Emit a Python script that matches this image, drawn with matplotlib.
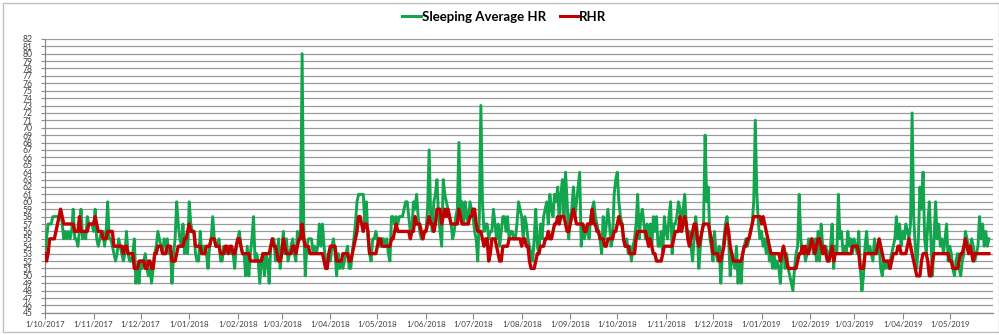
import numpy as np
import pandas as pd
import matplotlib
matplotlib.use("Agg")
import matplotlib.pyplot as plt
import matplotlib.dates as mdates
from matplotlib.patches import Rectangle

# daily values, starting 1/10/2017
start_date = "2017-10-01"

sleeping_hr = [
    53, 55, 57, 57, 57, 58, 58, 58, 58, 58, 59, 57, 55, 56, 55, 56, 55, 56, 59, 55,
    55, 54, 56, 59, 55, 56, 55, 58, 57, 57, 57, 56, 59, 55, 54, 55, 56, 56, 54, 56,
    60, 55, 55, 54, 53, 52, 53, 55, 54, 53, 52, 53, 56, 53, 52, 52, 53, 55, 49, 51,
    49, 52, 51, 52, 53, 51, 50, 51, 49, 51, 53, 54, 56, 55, 54, 53, 55, 54, 55, 53,
    54, 49, 53, 55, 60, 57, 55, 54, 57, 53, 55, 53, 60, 57, 56,
    56, 53, 52, 52, 56, 53, 54, 54, 53, 51, 54, 55, 58, 55, 54, 54, 55, 52, 52, 54,
    53, 54, 53, 54, 53, 53, 51, 54, 55, 56, 54, 53, 53, 50, 54, 50, 53, 55, 58, 52,
    53, 52, 49, 52, 53, 50, 53, 52, 49, 54, 55, 55, 52, 53, 55, 51, 53, 56, 53, 55,
    52, 53, 54, 55, 53, 52, 56, 55, 56, 80, 57, 50, 54, 55, 55, 55, 53, 54, 53, 54,
    57, 54, 57, 54, 52, 51, 53, 52, 54, 55, 53, 50, 53, 51, 52, 51, 52, 53, 54,
    51, 51, 53, 55, 57, 60, 61, 61, 61, 61, 57, 60, 55, 53, 52, 55, 55, 56, 55, 54,
    54, 55, 55, 54, 55, 53, 52, 58, 58, 57, 58, 57, 58, 58, 58, 59, 60, 60, 58, 56,
    56, 60, 59, 61, 58, 56, 55, 55, 56, 56, 59, 67, 58, 56, 60, 61, 63, 58, 56, 54,
    63, 61, 60, 59, 58, 57, 55, 56, 58, 59, 68, 58, 60, 57, 60, 58, 57, 60, 59, 58,
    56, 55, 52, 58, 73, 60, 56, 57, 57, 55, 56, 56, 59, 57, 55, 57, 54, 56, 58,
    58, 56, 58, 55, 56, 56, 55, 55, 57, 60, 59, 58, 55, 58, 57, 55, 54, 53, 52, 55,
    59, 54, 53, 57, 55, 58, 59, 60, 57, 61, 59, 58, 61, 60, 62, 57, 61, 63, 58, 64,
    60, 55, 58, 59, 62, 58, 60, 62, 64, 54, 57, 55, 56, 57, 55, 58, 59, 60, 58, 57,
    56, 55, 53, 58, 55, 57, 59, 57, 54, 55, 61, 63, 64, 60, 58, 57, 55, 54, 55, 53,
    54, 52, 54, 55, 57, 61, 55, 58, 59, 57, 55, 57, 54, 57, 54, 58, 56, 58, 54,
    54, 56, 53, 58, 56, 55, 58, 60, 53, 57, 57, 58, 60, 59, 56, 59, 61, 57, 55, 56,
    54, 52, 55, 58, 56, 51, 54, 56, 57, 69, 60, 62, 55, 54, 52, 56, 53, 52, 54, 49,
    53, 55, 57, 58, 55, 50, 53, 52, 51, 54, 49, 52, 49, 53, 54, 55, 54, 55, 56, 57,
    60, 71, 61, 57, 55, 56, 54, 55, 53, 55, 52, 53, 51, 53, 51, 52, 51, 49, 53, 54,
    51, 53, 51, 50, 49, 48, 51, 53, 54, 61, 55, 53, 54, 52, 53, 55, 54, 55, 53,
    55, 52, 56, 52, 57, 54, 53, 54, 53, 52, 54, 57, 51, 54, 53, 61, 55, 56, 53, 54,
    53, 56, 54, 55, 53, 55, 54, 53, 56, 51, 48, 50, 54, 56, 53, 54, 53, 52, 55, 53,
    53, 54, 51, 50, 52, 51, 52, 51, 52, 53, 54, 55, 58, 55, 57, 54, 56, 55, 57, 56,
    55, 57, 72, 58, 54, 51, 55, 62, 59, 64, 55, 53, 57, 60, 55, 50, 55, 60, 55, 57,
    54, 55, 53, 55, 57, 52, 54, 53, 51, 50, 52, 53, 51, 50, 52, 53, 56, 55, 54, 53,
    55, 54, 52, 53, 54, 58, 55, 57, 54, 56, 54, 55,
]

rhr = [
    53, 52, 53, 55, 55, 55, 55, 56, 57, 58, 59, 58, 57, 57, 57, 57, 57, 57, 57, 56,
    56, 56, 58, 56, 56, 56, 56, 56, 57, 57, 57, 57, 58, 57, 56, 56, 56, 55, 55, 55,
    56, 56, 56, 56, 54, 54, 54, 54, 54, 54, 53, 54, 54, 53, 53, 53, 53, 51, 51, 51,
    52, 52, 52, 52, 51, 51, 52, 52, 51, 51, 53, 53, 54, 54, 54, 53, 53, 53, 54, 54,
    54, 52, 52, 52, 53, 54, 54, 54, 54, 55, 55, 56, 57, 56, 56,
    56, 54, 54, 54, 54, 53, 53, 53, 54, 54, 54, 55, 55, 55, 54, 54, 54, 53, 53, 53,
    54, 54, 53, 54, 54, 53, 53, 54, 55, 55, 54, 53, 53, 53, 53, 53, 52, 52, 52, 52,
    52, 52, 52, 52, 53, 53, 53, 53, 53, 54, 55, 54, 54, 53, 52, 52, 53, 55, 54, 53,
    53, 53, 53, 54, 54, 53, 54, 55, 55, 57, 55, 54, 54, 54, 53, 53, 53, 53, 53, 53,
    53, 53, 53, 52, 51, 51, 53, 54, 54, 54, 54, 52, 52, 52, 52, 53, 53, 53, 53,
    52, 52, 53, 54, 55, 56, 58, 58, 57, 56, 57, 57, 56, 53, 53, 53, 53, 53, 54, 55,
    55, 54, 54, 54, 54, 54, 54, 55, 55, 56, 57, 56, 56, 56, 56, 56, 56, 56, 56, 55,
    56, 56, 58, 57, 57, 57, 56, 55, 56, 56, 57, 58, 57, 57, 56, 57, 59, 59, 59, 57,
    58, 59, 58, 59, 58, 57, 57, 57, 57, 57, 59, 58, 57, 57, 57, 57, 57, 58, 58, 59,
    59, 57, 56, 56, 56, 55, 54, 55, 55, 52, 53, 55, 55, 55, 54, 53, 52, 52, 54,
    54, 54, 54, 55, 55, 55, 55, 55, 55, 55, 55, 54, 55, 55, 54, 54, 52, 51, 51, 51,
    52, 53, 53, 54, 54, 54, 55, 55, 56, 55, 55, 56, 57, 57, 58, 57, 58, 58, 58, 57,
    56, 56, 57, 58, 59, 58, 57, 57, 57, 57, 57, 56, 56, 57, 57, 57, 59, 57, 57, 56,
    56, 55, 55, 55, 54, 54, 55, 55, 55, 55, 56, 56, 57, 58, 57, 57, 55, 54, 54, 54,
    53, 53, 53, 53, 55, 56, 56, 56, 56, 56, 56, 55, 54, 55, 54, 53, 53, 52, 52,
    52, 52, 53, 54, 54, 54, 54, 54, 54, 55, 56, 56, 56, 58, 56, 57, 58, 57, 55, 54,
    55, 56, 57, 57, 55, 54, 55, 56, 57, 57, 57, 57, 56, 55, 53, 53, 53, 53, 52, 52,
    53, 54, 56, 57, 56, 54, 53, 52, 52, 52, 52, 52, 52, 53, 54, 54, 55, 55, 56, 57,
    58, 58, 58, 58, 58, 57, 58, 57, 56, 55, 54, 53, 53, 53, 53, 53, 53, 52, 53, 54,
    53, 52, 51, 51, 51, 51, 51, 51, 52, 53, 53, 54, 53, 54, 53, 53, 54, 55, 54,
    53, 54, 55, 55, 54, 53, 54, 53, 52, 52, 53, 54, 52, 53, 53, 53, 53, 53, 53, 53,
    53, 53, 53, 53, 54, 54, 54, 54, 53, 51, 51, 51, 53, 53, 53, 53, 53, 53, 53, 53,
    54, 55, 54, 53, 52, 52, 52, 52, 51, 52, 53, 53, 53, 54, 54, 53, 53, 53, 53, 54,
    55, 54, 53, 52, 51, 50, 50, 50, 52, 53, 53, 53, 52, 50, 50, 52, 53, 53, 53, 53,
    53, 53, 53, 53, 53, 53, 52, 52, 51, 51, 51, 51, 52, 53, 53, 54, 55, 54, 53, 54,
    53, 52, 53, 53, 53, 53, 53, 53, 53, 53, 53, 53,
]

y_ticks = list(range(45, 83))
legend_labels = ["Sleeping Average HR", "RHR"]

dates_sleep = pd.date_range(start_date, periods=len(sleeping_hr), freq="D")
dates_rhr = pd.date_range(start_date, periods=len(rhr), freq="D")
month_ticks = pd.date_range("2017-10-01", "2019-05-01", freq="MS")
month_labels = [f"{d.day}/{d.month:02d}/{d.year}" for d in month_ticks]

fig = plt.figure(figsize=(9.99, 3.35), dpi=100)
fig.patches.append(Rectangle((0.003, 0.009), 0.997, 0.982, transform=fig.transFigure,
                             fill=False, edgecolor="#bfbfbf", linewidth=1.0))

ax = fig.add_axes([0.045, 0.066, 0.949, 0.818])
ax.plot(dates_sleep, sleeping_hr, color="#12a54e", linewidth=2.1,
        solid_joinstyle="round", label=legend_labels[0], zorder=3)
ax.plot(dates_rhr, rhr, color="#c00000", linewidth=2.4,
        solid_joinstyle="round", label=legend_labels[1], zorder=4)

ax.set_ylim(45, 82)
ax.set_yticks(y_ticks)
ax.set_xlim(pd.Timestamp(start_date), pd.Timestamp(start_date) + pd.Timedelta(days=604.6))
ax.set_xticks(month_ticks)
ax.set_xticklabels(month_labels)

ax.grid(axis="y", color="#9a9a9a", linewidth=0.9)
ax.grid(axis="x", visible=False)
ax.set_axisbelow(True)
for side in ["top", "right"]:
    ax.spines[side].set_visible(False)
for side in ["left", "bottom"]:
    ax.spines[side].set_color("#8a8a8a")
    ax.spines[side].set_linewidth(0.9)
ax.tick_params(axis="y", length=3, width=0.8, color="#8a8a8a", pad=6,
               labelsize=6.2, labelcolor="#404040")
ax.tick_params(axis="x", length=4, width=0.8, color="#8a8a8a", pad=2,
               labelsize=5.8, labelcolor="#404040")
for lab in ax.get_xticklabels() + ax.get_yticklabels():
    lab.set_family("Lato")

leg = fig.legend(loc="center", bbox_to_anchor=(0.505, 0.95), ncol=2, frameon=False,
                 handlelength=1.4, handletextpad=0.1, columnspacing=1.0,
                 prop={"family": "Lato", "weight": "bold", "size": 9.5})
for line in leg.get_lines():
    line.set_linewidth(2.2)

fig.savefig("out.png", dpi=100, facecolor="white")
